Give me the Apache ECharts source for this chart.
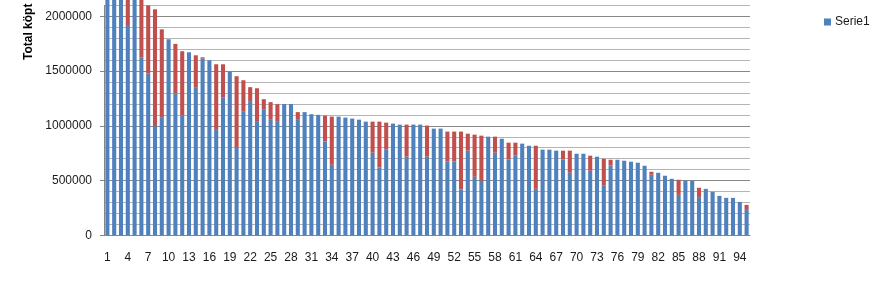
<!DOCTYPE html>
<html>
<head>
<meta charset="utf-8">
<script src="https://cdn.jsdelivr.net/npm/echarts@6/dist/echarts.min.js"></script>
<style>
html,body{margin:0;padding:0;background:#fff;}
#chart{width:882px;height:284px;}
</style>
</head>
<body>
<div id="chart"></div>
<script>
var categories = [];
for (var i = 1; i <= 95; i++) categories.push(String(i));

var serie1 = [
  2600000, 2500000, 2400000, 1912000, 2300000, 1626000, 1480000, 997000, 1079000, 1790000,
  1298000, 1097000, 1672000, 1347000, 1614000, 1599000, 970000, 1261000, 1495000, 799000,
  1128000, 1219000, 1043000, 1152000, 1061000, 1036000, 1198000, 1198000, 1061000, 1125000,
  1106000, 1100000, 858000, 644000, 1084000, 1075000, 1066000, 1056000, 1038000, 754000,
  620000, 785000, 1020000, 1011000, 718000, 1011000, 1011000, 718000, 974000, 974000,
  675000, 675000, 418000, 773000, 534000, 498000, 901000, 754000, 882000, 693000,
  730000, 837000, 818000, 424000, 782000, 782000, 773000, 693000, 571000, 745000,
  745000, 589000, 718000, 452000, 638000, 690000, 681000, 672000, 663000, 635000,
  553000, 571000, 544000, 516000, 369000, 498000, 498000, 342000, 424000, 397000,
  360000, 342000, 342000, 305000, 232000
];

var serie2 = [
  0, 0, 0, 400000, 0, 600000, 620000, 1067000, 802000, 0,
  450000, 584000, 0, 297000, 12000, 0, 592000, 301000, 0, 654000,
  288000, 134000, 300000, 91000, 155000, 162000, 0, 0, 64000, 0,
  0, 0, 235000, 440000, 0, 0, 0, 0, 0, 284000,
  418000, 244000, 0, 0, 293000, 0, 0, 284000, 0, 0,
  272000, 272000, 529000, 155000, 385000, 412000, 0, 147000, 0, 153000,
  116000, 0, 0, 394000, 0, 0, 0, 80000, 202000, 0,
  0, 138000, 0, 247000, 52000, 0, 0, 0, 0, 0,
  27000, 0, 0, 0, 138000, 0, 0, 92000, 0, 0,
  0, 0, 0, 0, 46000
];

var yTickLabels = [0, 500000, 1000000, 1500000, 2000000];
var yAxisTitle = 'Total köpt';

var chart = echarts.init(document.getElementById('chart'), null, {renderer: 'canvas'});
var FONT = '"Liberation Sans", Arial, sans-serif';
var LIGHT = '#b4b4b4';

chart.setOption({
  animation: false,
  backgroundColor: '#ffffff',
  grid: {left: 104, right: 132, top: 5.35, bottom: 48.7, containLabel: false},
  legend: {
    data: ['Serie1'],
    left: 819, top: 11,
    itemWidth: 7, itemHeight: 7,
    itemGap: 4,
    icon: 'rect',
    textStyle: {fontFamily: FONT, fontSize: 12, color: '#1a1a1a', padding: [0, 0, 0, -1]}
  },
  xAxis: {
    type: 'category',
    data: categories,
    axisLine: {lineStyle: {color: '#868686'}},
    axisTick: {show: false},
    axisLabel: {interval: 2, margin: 16, fontFamily: FONT, fontSize: 12, color: '#1a1a1a'},
    splitLine: {show: false}
  },
  yAxis: [
    {
      type: 'value',
      min: 0, max: 2100000, interval: 100000,
      axisLine: {show: false},
      axisTick: {show: false},
      axisLabel: {show: false},
      splitLine: {show: true, lineStyle: {color: ['rgba(0,0,0,0)', LIGHT, LIGHT, LIGHT, LIGHT], width: 1}}
    },
    {
      type: 'value',
      position: 'left',
      min: 0, max: 2100000, interval: 100000,
      axisLine: {show: true, onZero: false, lineStyle: {color: '#868686'}},
      axisTick: {show: true, length: 4, customValues: yTickLabels, lineStyle: {color: '#868686'}},
      axisLabel: {
        margin: 12, fontFamily: FONT, fontSize: 12, color: '#1a1a1a',
        customValues: yTickLabels,
        formatter: function (v) { return String(v); }
      },
      splitLine: {show: true, lineStyle: {color: '#888888', width: 1}}
    }
  ],
  series: [
    {
      name: 'Serie1', type: 'bar', stack: 'a', data: serie1,
      yAxisIndex: 1,
      barWidth: '60%', clip: false,
      itemStyle: {color: '#4f81bd'}
    },
    {
      name: 'Serie2', type: 'bar', stack: 'a', data: serie2,
      yAxisIndex: 1,
      barWidth: '60%', clip: false,
      itemStyle: {color: '#c0504d'}
    }
  ],
  graphic: [{
    type: 'text',
    x: 29, y: 60,
    rotation: Math.PI / 2,
    style: {
      text: yAxisTitle,
      fontFamily: FONT, fontSize: 12, fontWeight: 'bold',
      fill: '#000', align: 'left', verticalAlign: 'middle'
    }
  }]
});
</script>
</body>
</html>
